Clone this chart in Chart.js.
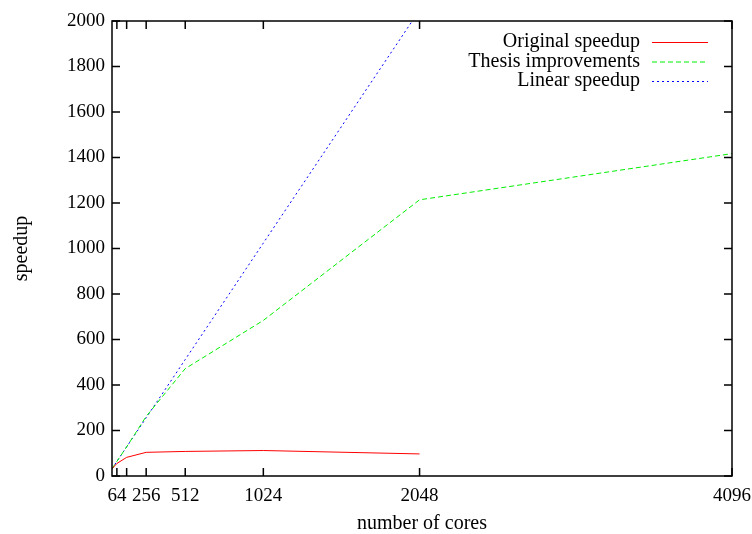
<!DOCTYPE html>
<html>
<head>
<meta charset="utf-8">
<script src="https://cdn.jsdelivr.net/npm/chart.js@4.4.0/dist/chart.umd.min.js"></script>
<style>
  html, body { margin: 0; padding: 0; background: #fff; }
  #wrap { width: 752px; height: 534px; }
</style>
</head>
<body>
<div id="wrap"><canvas id="speedupChart"></canvas></div>
<script>
// Data
const coreCounts = [32, 64, 128, 256, 512, 1024, 2048, 4096];
const originalSpeedup = [32, 55, 82, 104, 108, 112, 97, null];
const thesisSpeedup = [32, 64, 128, 262, 472, 684, 1214, 1417];
const linearSpeedup = [32, 64, 128, 256, 512, 1024, 2048, 4096];

const xTickValues = [64, 128, 256, 512, 1024, 2048, 4096];
const xTickLabels = ['64', '', '256', '512', '1024', '2048', '4096'];

const FONT = 'Liberation Serif';

function toPoints(values) {
    return coreCounts.map((c, i) => ({ x: c, y: values[i] }));
}

// gnuplot-ish frame, inward ticks and key
const gnuplotFrame = {
    id: 'gnuplotFrame',
    afterDraw(chart) {
        const ctx = chart.ctx;
        const a = chart.chartArea;
        const xs = chart.scales.x;
        const ys = chart.scales.y;
        const tl = 8;
        ctx.save();
        ctx.strokeStyle = '#000';
        ctx.lineWidth = 1.5;
        ctx.strokeRect(a.left, a.top, a.right - a.left, a.bottom - a.top);
        ctx.beginPath();
        xTickValues.forEach(v => {
            const px = xs.getPixelForValue(v);
            ctx.moveTo(px, a.bottom); ctx.lineTo(px, a.bottom - tl);
            ctx.moveTo(px, a.top); ctx.lineTo(px, a.top + tl);
        });
        ys.ticks.forEach(t => {
            const py = ys.getPixelForValue(t.value);
            ctx.moveTo(a.left, py); ctx.lineTo(a.left + tl, py);
            ctx.moveTo(a.right, py); ctx.lineTo(a.right - tl, py);
        });
        ctx.stroke();

        // key
        ctx.font = '20px "' + FONT + '"';
        ctx.textAlign = 'right';
        ctx.textBaseline = 'middle';
        ctx.fillStyle = '#000';
        chart.data.datasets.forEach((ds, i) => {
            const y = 42 + i * 19.5;
            ctx.fillText(ds.label, 640, y);
            ctx.beginPath();
            ctx.strokeStyle = ds.borderColor;
            ctx.lineWidth = 1;
            ctx.setLineDash(ds.borderDash || []);
            ctx.moveTo(652, y + 0.5);
            ctx.lineTo(708, y + 0.5);
            ctx.stroke();
        });
        ctx.restore();
    }
};

new Chart(document.getElementById('speedupChart'), {
    type: 'line',
    data: {
        datasets: [
            {
                label: 'Original speedup',
                data: toPoints(originalSpeedup),
                borderColor: '#ff0000',
                borderWidth: 1,
                pointRadius: 0,
                spanGaps: false
            },
            {
                label: 'Thesis improvements',
                data: toPoints(thesisSpeedup),
                borderColor: '#00ee00',
                borderWidth: 1,
                borderDash: [5, 3],
                pointRadius: 0
            },
            {
                label: 'Linear speedup',
                data: toPoints(linearSpeedup),
                borderColor: '#0000ff',
                borderWidth: 1,
                borderDash: [2, 3],
                pointRadius: 0
            }
        ]
    },
    options: {
        responsive: true,
        maintainAspectRatio: false,
        animation: false,
        layout: { padding: { left: 0, right: 20, top: 21, bottom: 0 } },
        plugins: {
            legend: { display: false },
            tooltip: { enabled: false }
        },
        scales: {
            x: {
                type: 'linear',
                min: 32,
                max: 4096,
                afterBuildTicks: scale => {
                    scale.ticks = xTickValues.map(v => ({ value: v }));
                },
                afterFit: scale => {
                    scale.height = 58;
                    scale.paddingLeft = 0;
                    scale.paddingRight = 0;
                },
                grid: { display: false, drawTicks: false },
                border: { display: false },
                ticks: {
                    autoSkip: false,
                    maxRotation: 0,
                    padding: 9,
                    color: '#000',
                    font: { family: FONT, size: 19 },
                    callback: v => xTickLabels[xTickValues.indexOf(v)]
                },
                title: {
                    display: true,
                    text: 'number of cores',
                    color: '#000',
                    font: { family: FONT, size: 20, lineHeight: 1 },
                    padding: { top: 0, bottom: 0 }
                }
            },
            y: {
                min: 0,
                max: 2000,
                afterFit: scale => {
                    scale.width = 112;
                    scale.paddingTop = 0;
                    scale.paddingBottom = 0;
                },
                grid: { display: false, drawTicks: false },
                border: { display: false },
                ticks: {
                    stepSize: 200,
                    padding: 7,
                    color: '#000',
                    font: { family: FONT, size: 19 },
                    callback: v => String(v)
                },
                title: {
                    display: true,
                    text: 'speedup',
                    color: '#000',
                    font: { family: FONT, size: 20, lineHeight: 1 },
                    padding: { top: 12, bottom: 0 }
                }
            }
        }
    },
    plugins: [gnuplotFrame]
});
</script>
</body>
</html>
